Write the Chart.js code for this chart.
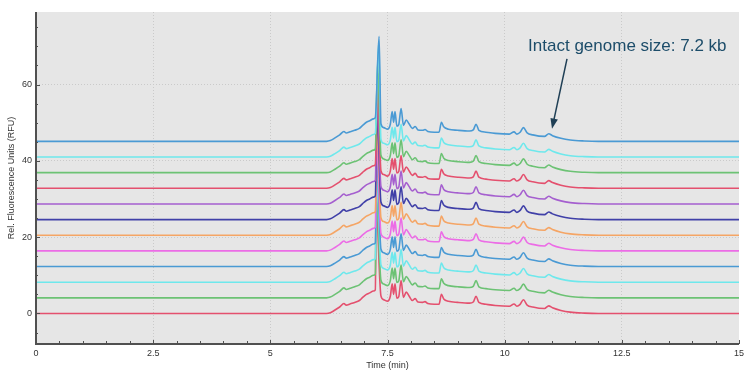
<!DOCTYPE html>
<html>
<head>
<meta charset="utf-8">
<script src="https://cdn.jsdelivr.net/npm/chart.js@4.4.1/dist/chart.umd.min.js"></script>
<style>
  body { margin: 0; background: #fff; }
</style>
</head>
<body>
<canvas id="trace" width="750" height="375"></canvas>
<script>
// common electropherogram shape, signal above each trace's own baseline (RFU)
const profileTime = [0, 6.2, 6.28, 6.38, 6.48, 6.57, 6.62, 6.7, 6.8, 6.9, 6.97, 7.05, 7.12, 7.2, 7.24,
  7.36, 7.42, 7.5, 7.56, 7.6, 7.63, 7.66, 7.7, 7.74, 7.79, 7.84, 7.9, 7.96, 8.03, 8.09, 8.15, 8.25,
  8.3, 8.36, 8.5, 8.6, 8.65, 8.7, 8.8, 9.0, 9.25, 9.33, 9.39, 9.45, 9.6, 9.8, 10.1, 10.2, 10.26,
  10.33, 10.4, 10.48, 10.6, 10.85, 10.94, 11.02, 11.2, 11.4, 11.7, 12.0, 15];
const profileSignal = [0, 0, 0.2, 0.9, 1.7, 2.6, 2.2, 2.5, 2.9, 3.4, 4.2, 5.0, 5.4, 5.9, 6.2,
  4.6, 3.6, 3.2, 4.5, 7.8, 5.0, 7.8, 4.0, 4.4, 8.6, 4.2, 5.6, 4.6, 3.4, 3.9, 3.0, 2.9,
  3.1, 2.6, 2.4, 2.4, 5.0, 3.8, 3.2, 2.9, 2.7, 3.0, 4.5, 2.9, 2.4, 2.1, 1.9, 2.5, 1.9,
  2.4, 3.6, 2.2, 1.7, 1.3, 2.0, 1.5, 0.8, 0.35, 0.1, 0, 0];

// one entry per trace, bottom to top
const baselines = [0, 4.1, 8.2, 12.3, 16.4, 20.5, 24.6, 28.7, 32.8, 36.9, 41.0, 45.1];
const spikeTime = [7.26, 7.26, 7.27, 7.27, 7.27, 7.28, 7.28, 7.28, 7.29, 7.29, 7.31, 7.32];
const spikeHeight = [27, 28, 28, 28, 28, 28, 28, 28, 27, 29, 30, 27.5];
const traceColors = ['#e4506e', '#6cc274', '#6ee8ec', '#4a9ad4', '#ec6ce6', '#f5a565',
  '#4040a8', '#a55fcf', '#e4506e', '#6cc274', '#6ee8ec', '#4a9ad4'];

const xTicks = [0, 2.5, 5, 7.5, 10, 12.5, 15];
const yTicks = [0, 20, 40, 60];

const note = { text: 'Intact genome size: 7.2 kb', x: 10.5, y: 68.8, fromX: 11.33, fromY: 66.7, toX: 11.01, toY: 48.4 };

const datasets = [];
for (let i = baselines.length - 1; i >= 0; i--) {
  const pts = profileTime.map((t, k) => ({ x: t, y: baselines[i] + profileSignal[k] }));
  pts.push({ x: spikeTime[i], y: baselines[i] + spikeHeight[i] });
  pts.sort((a, b) => a.x - b.x);
  datasets.push({
    label: 'Trace ' + (i + 1),
    data: pts,
    borderColor: traceColors[i],
    borderWidth: 1.6,
    pointRadius: 0,
    cubicInterpolationMode: 'monotone',
    fill: false
  });
}

const plotBackground = {
  id: 'plotBackground',
  beforeDraw(chart) {
    const { ctx, chartArea: a } = chart;
    ctx.save();
    ctx.fillStyle = '#e6e6e6';
    ctx.fillRect(a.left, a.top, a.right - a.left, a.bottom - a.top);
    ctx.restore();
  }
};

// solid axis lines, small tick marks pointing into the plot, plus the arrow note
const axesAndNote = {
  id: 'axesAndNote',
  afterDraw(chart) {
    const { ctx, chartArea: a, scales: { x, y } } = chart;
    ctx.save();
    ctx.strokeStyle = '#505050';
    ctx.lineWidth = 2;
    ctx.beginPath();
    ctx.moveTo(a.left, a.top);
    ctx.lineTo(a.left, a.bottom);
    ctx.lineTo(a.right, a.bottom);
    ctx.stroke();

    ctx.lineWidth = 1;
    ctx.beginPath();
    for (let v = 0.5; v <= 15; v += 0.5) {
      const px = Math.round(x.getPixelForValue(v)) + 0.5;
      const len = (v % 2.5 === 0) ? 4 : 3;
      ctx.moveTo(px, a.bottom);
      ctx.lineTo(px, a.bottom - len);
    }
    for (let v = -5; v < 79; v += 5) {
      const py = Math.round(y.getPixelForValue(v)) + 0.5;
      const len = (v % 20 === 0) ? 4 : 2;
      ctx.moveTo(a.left, py);
      ctx.lineTo(a.left + len, py);
    }
    ctx.stroke();

    // annotation
    ctx.fillStyle = '#1d4d6a';
    ctx.font = '17px "Liberation Sans", Arial, sans-serif';
    ctx.textBaseline = 'alphabetic';
    ctx.fillText(note.text, x.getPixelForValue(note.x), y.getPixelForValue(note.y));
    const x0 = x.getPixelForValue(note.fromX), y0 = y.getPixelForValue(note.fromY);
    const x1 = x.getPixelForValue(note.toX), y1 = y.getPixelForValue(note.toY);
    const ang = Math.atan2(y1 - y0, x1 - x0);
    ctx.strokeStyle = '#1f3f55';
    ctx.lineWidth = 1.5;
    ctx.beginPath();
    ctx.moveTo(x0, y0);
    ctx.lineTo(x1 - 8 * Math.cos(ang), y1 - 8 * Math.sin(ang));
    ctx.stroke();
    ctx.fillStyle = '#1f3f55';
    ctx.beginPath();
    ctx.moveTo(x1, y1);
    ctx.lineTo(x1 - 11 * Math.cos(ang - 0.35), y1 - 11 * Math.sin(ang - 0.35));
    ctx.lineTo(x1 - 11 * Math.cos(ang + 0.35), y1 - 11 * Math.sin(ang + 0.35));
    ctx.closePath();
    ctx.fill();
    ctx.restore();
  }
};

const tickFont = { family: '"Liberation Sans", Arial, sans-serif', size: 9 };

new Chart(document.getElementById('trace'), {
  type: 'line',
  data: { datasets },
  options: {
    responsive: false,
    animation: false,
    devicePixelRatio: 1,
    layout: { padding: { top: 12, right: 11, left: 0, bottom: 0 } },
    plugins: { legend: { display: false }, tooltip: { enabled: false } },
    scales: {
      x: {
        type: 'linear',
        min: 0,
        max: 15,
        afterBuildTicks: s => { s.ticks = xTicks.map(v => ({ value: v })); },
        afterFit: s => { s.height = 31; },
        ticks: { font: tickFont, color: '#333', padding: 4, maxRotation: 0, autoSkip: false },
        grid: {
          drawTicks: false,
          color: c => (c.tick && (c.tick.value === 0 || c.tick.value === 15)) ? 'rgba(0,0,0,0)' : '#cacaca',
          lineWidth: 1
        },
        border: { display: false, dash: [1, 2] },
        title: { display: true, text: 'Time (min)', font: tickFont, color: '#333', padding: { top: 0, bottom: 4 } }
      },
      y: {
        min: -8,
        max: 79,
        afterBuildTicks: s => { s.ticks = yTicks.map(v => ({ value: v })); },
        afterFit: s => { s.width = 36; },
        ticks: { font: tickFont, color: '#333', padding: 4 },
        grid: { drawTicks: false, color: '#cacaca', lineWidth: 1 },
        border: { display: false, dash: [1, 2] },
        title: { display: true, text: 'Rel. Fluorescence Units (RFU)', font: tickFont, color: '#333', padding: { top: 6, bottom: 0 } }
      }
    }
  },
  plugins: [plotBackground, axesAndNote]
});
</script>
</body>
</html>
